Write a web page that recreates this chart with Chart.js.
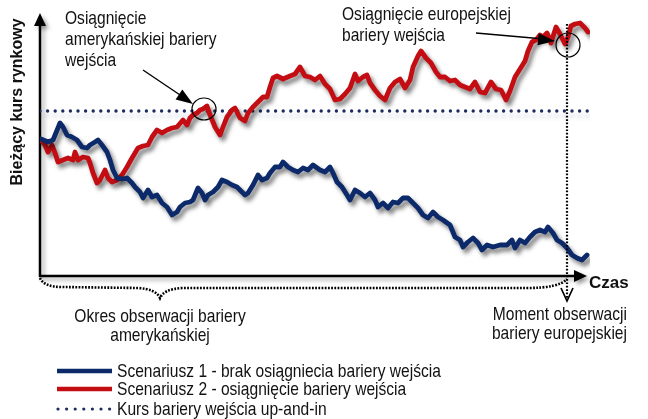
<!DOCTYPE html>
<html>
<head>
<meta charset="utf-8">
<script src="https://cdn.jsdelivr.net/npm/chart.js@4.4.1/dist/chart.umd.min.js"></script>
<style>
  html, body { margin: 0; padding: 0; background: #fff; }
  #wrap { width: 648px; height: 419px; }
</style>
</head>
<body>
<div id="wrap"><canvas id="barrierChart" width="648" height="419"></canvas></div>
<script>
// Bariera up-and-in: dwa scenariusze kursu na tle poziomu bariery
// Czas w krokach (0..550), kurs w jednostkach umownych (0..276)

const blueT = [1, 8, 13, 20, 23, 27, 32, 37, 42, 47, 50, 55, 58, 62, 67, 70, 73, 77, 82, 87, 92, 95, 100, 103, 108, 112, 117, 122, 127, 132, 137, 140, 145, 150, 153, 158, 162, 165, 168, 173, 178, 182, 187, 192, 197, 202, 205, 208, 213, 218, 222, 227, 230, 235, 240, 243, 248, 253, 258, 263, 268, 273, 280, 285, 290, 293, 297, 302, 307, 310, 315, 320, 325, 330, 335, 338, 343, 348, 353, 358, 363, 368, 373, 378, 383, 388, 393, 398, 403, 410, 415, 420, 423, 428, 433, 438, 442, 447, 453, 460, 467, 472, 475, 480, 485, 490, 495, 500, 505, 508, 513, 517, 522, 527, 532, 537, 542, 547];
const blueV = [137, 134, 136, 153, 149, 141, 139, 136, 129, 128, 131, 134, 136, 131, 124, 116, 106, 98, 97, 98, 93, 89, 84, 78, 86, 79, 81, 73, 69, 61, 64, 69, 73, 74, 76, 88, 83, 76, 81, 84, 89, 96, 94, 91, 89, 84, 81, 83, 91, 101, 96, 98, 103, 109, 109, 114, 109, 106, 104, 108, 106, 111, 106, 104, 109, 103, 94, 89, 81, 76, 86, 83, 79, 83, 76, 69, 73, 68, 74, 73, 78, 78, 73, 68, 61, 58, 64, 59, 56, 51, 39, 36, 29, 34, 38, 33, 26, 31, 29, 31, 31, 36, 28, 36, 33, 39, 44, 46, 44, 49, 43, 36, 33, 28, 21, 18, 16, 21];

const redT = [1, 5, 8, 12, 15, 18, 23, 28, 33, 35, 38, 43, 48, 50, 53, 57, 60, 65, 68, 72, 77, 82, 87, 92, 95, 98, 103, 108, 112, 117, 122, 127, 132, 137, 143, 147, 150, 153, 157, 160, 163, 167, 170, 173, 175, 180, 183, 187, 192, 195, 200, 205, 208, 213, 218, 223, 227, 230, 233, 237, 243, 250, 255, 260, 265, 270, 275, 280, 285, 290, 295, 300, 305, 310, 315, 318, 323, 327, 330, 335, 340, 345, 350, 355, 360, 365, 370, 373, 378, 381, 386, 391, 396, 400, 405, 410, 415, 420, 425, 430, 435, 440, 445, 451, 456, 461, 466, 470, 475, 480, 485, 488, 492, 496, 500, 503, 507, 511, 516, 520, 525, 528, 531, 535, 540, 545, 548];
const redV = [136, 131, 124, 131, 123, 114, 116, 118, 116, 124, 116, 119, 118, 113, 103, 93, 96, 106, 98, 94, 96, 101, 109, 118, 123, 128, 130, 131, 139, 146, 143, 146, 148, 149, 156, 151, 158, 161, 163, 166, 167, 170, 161, 154, 149, 141, 149, 159, 166, 168, 158, 155, 163, 169, 174, 179, 179, 189, 198, 200, 197, 200, 202, 209, 200, 199, 196, 200, 192, 187, 176, 177, 182, 188, 202, 195, 199, 201, 193, 186, 180, 176, 188, 194, 197, 188, 196, 209, 220, 225, 218, 213, 204, 199, 199, 195, 196, 191, 189, 187, 194, 184, 183, 194, 187, 186, 176, 185, 199, 207, 215, 225, 234, 236, 241, 239, 243, 233, 249, 242, 232, 239, 250, 252, 253, 248, 244];

const barrierLevel = 165;
const timeEnd = 548;
const americanHit = { t: 164, v: 167 };   // pierwsze przebicie bariery
const europeanT = 527;                    // moment obserwacji europejskiej
const europeanHit = { t: 528, v: 231 };

const seriesLabels = [
  'Scenariusz 1 - brak osiągniecia bariery wejścia',
  'Scenariusz 2 - osiągnięcie bariery wejścia',
  'Kurs bariery wejścia up-and-in'
];
const yTitle = 'Bieżący kurs rynkowy';
const xTitle = 'Czas';
const noteAmerican = ['Osiągnięcie', 'amerykańskiej bariery', 'wejścia'];
const noteEuropean = ['Osiągnięcie europejskiej', 'bariery wejścia'];
const notePeriod = ['Okres obserwacji bariery', 'amerykańskiej'];
const noteMoment = ['Moment obserwacji', 'bariery europejskiej'];

const BLUE = '#0c2a6a';
const RED = '#c40d12';
const DOTS = '#1a2c5e';

// --- fonts -----------------------------------------------------------
function hasFont(name) {
  const c = document.createElement('canvas').getContext('2d');
  const probe = 'abcdefghijklmnopqrstuvwxyz ABCDEFGH';
  c.font = '40px monospace';
  const a = c.measureText(probe).width;
  c.font = '40px "' + name + '", monospace';
  return c.measureText(probe).width !== a;
}
const NARROW = hasFont('Liberation Sans Narrow') ? '"Liberation Sans Narrow"' : null;
const SANS = '"Liberation Sans", Arial, sans-serif';

function narrowText(ctx, text, x, y, size, align) {
  ctx.save();
  ctx.fillStyle = '#111';
  ctx.textBaseline = 'alphabetic';
  ctx.textAlign = align || 'left';
  if (NARROW) {
    ctx.font = size + 'px ' + NARROW;
    ctx.fillText(text, x, y);
  } else {
    ctx.font = size + 'px ' + SANS;
    ctx.translate(x, y);
    ctx.scale(0.82, 1);
    ctx.fillText(text, 0, 0);
  }
  ctx.restore();
}

function arrowHead(ctx, x0, y0, x1, y1, len, half) {
  const a = Math.atan2(y1 - y0, x1 - x0);
  ctx.beginPath();
  ctx.moveTo(x1, y1);
  ctx.lineTo(x1 - len * Math.cos(a) + half * Math.sin(a), y1 - len * Math.sin(a) - half * Math.cos(a));
  ctx.lineTo(x1 - len * Math.cos(a) - half * Math.sin(a), y1 - len * Math.sin(a) + half * Math.cos(a));
  ctx.closePath();
  ctx.fill();
}

function shadowOn(ctx, dx, dy, blur, col) {
  ctx.shadowColor = col || 'rgba(0,0,0,0.35)';
  ctx.shadowOffsetX = dx;
  ctx.shadowOffsetY = dy;
  ctx.shadowBlur = blur;
}

// --- plugins ---------------------------------------------------------
const lineShadow = {
  id: 'lineShadow',
  beforeDatasetDraw(chart, args) {
    const ctx = chart.ctx;
    ctx.save();
    if (args.index === 2) shadowOn(ctx, 0, 5, 4, 'rgba(60,70,110,0.30)');
    else shadowOn(ctx, 3, 4, 4, 'rgba(0,0,0,0.5)');
  },
  afterDatasetDraw(chart) {
    chart.ctx.restore();
  }
};

const axesArrows = {
  id: 'axesArrows',
  beforeDatasetsDraw(chart) {
    const { ctx, chartArea: ca } = chart;
    const x0 = ca.left, y0 = ca.bottom;
    const xEnd = chart.scales.x.getPixelForValue(timeEnd) - 1;
    ctx.save();
    shadowOn(ctx, 3, 3, 4, 'rgba(0,0,0,0.35)');
    ctx.strokeStyle = '#000';
    ctx.fillStyle = '#000';
    ctx.lineWidth = 2.5;
    ctx.beginPath();
    ctx.moveTo(x0, y0 + 1);
    ctx.lineTo(x0, 20);
    ctx.moveTo(x0 - 1, y0);
    ctx.lineTo(xEnd - 8, y0);
    ctx.stroke();
    arrowHead(ctx, x0, 40, x0, 13, 13, 6);
    arrowHead(ctx, xEnd - 20, y0, xEnd, y0, 13, 6);
    ctx.restore();

    // y title
    ctx.save();
    ctx.fillStyle = '#111';
    ctx.font = 'bold 16px ' + SANS;
    ctx.textAlign = 'center';
    ctx.textBaseline = 'middle';
    ctx.translate(18, 102);
    ctx.rotate(-Math.PI / 2);
    ctx.fillText(yTitle, 0, 0);
    ctx.restore();

    // x title
    ctx.save();
    ctx.fillStyle = '#111';
    ctx.font = 'bold 17px ' + SANS;
    ctx.textAlign = 'left';
    ctx.textBaseline = 'alphabetic';
    ctx.fillText(xTitle, xEnd + 2, y0 + 12);
    ctx.restore();
  }
};

const notes = {
  id: 'notes',
  afterDatasetsDraw(chart) {
    const { ctx } = chart;
    const xs = chart.scales.x, ys = chart.scales.y;
    const ax = xs.getPixelForValue(americanHit.t), ay = ys.getPixelForValue(americanHit.v);
    const ex = xs.getPixelForValue(europeanHit.t), ey = ys.getPixelForValue(europeanHit.v);
    const eT = xs.getPixelForValue(europeanT);
    const left = chart.chartArea.left, bottom = chart.chartArea.bottom;

    ctx.save();
    ctx.strokeStyle = '#000';
    ctx.fillStyle = '#000';

    // circles
    ctx.lineWidth = 1.2;
    ctx.beginPath();
    ctx.ellipse(ax, ay, 12, 11, 0, 0, Math.PI * 2);
    ctx.stroke();
    ctx.beginPath();
    ctx.ellipse(ex, ey, 12, 12, 0, 0, Math.PI * 2);
    ctx.stroke();

    // pointer arrows
    ctx.lineWidth = 1.4;
    ctx.beginPath();
    ctx.moveTo(143, 70);
    ctx.lineTo(ax - 18, ay - 10);
    ctx.stroke();
    arrowHead(ctx, 143, 70, ax - 11, ay - 5, 17, 6);
    ctx.beginPath();
    ctx.moveTo(476, 33);
    ctx.lineTo(ex - 24, ey - 6);
    ctx.stroke();
    arrowHead(ctx, 476, 33, ex - 13, ey - 4, 17, 6);

    // European observation moment: vertical dotted line with open arrow
    ctx.lineWidth = 2.2;
    ctx.setLineDash([1.7, 1.7]);
    ctx.beginPath();
    ctx.moveTo(eT, 24);
    ctx.lineTo(eT, 300);
    ctx.stroke();
    ctx.setLineDash([]);
    ctx.lineWidth = 1.7;
    ctx.beginPath();
    ctx.moveTo(eT - 6, 288);
    ctx.lineTo(eT, 301);
    ctx.lineTo(eT + 6, 288);
    ctx.stroke();

    // brace under the American observation period
    ctx.lineWidth = 2.6;
    ctx.setLineDash([1.8, 1.4]);
    ctx.beginPath();
    ctx.moveTo(left, bottom + 2);
    ctx.quadraticCurveTo(left + 4, bottom + 11, left + 22, bottom + 11);
    ctx.lineTo(138, bottom + 12);
    ctx.quadraticCurveTo(156, bottom + 13, 160, bottom + 22);
    ctx.quadraticCurveTo(164, bottom + 13, 182, bottom + 12);
    ctx.lineTo(eT - 40, bottom + 12);
    ctx.quadraticCurveTo(eT - 8, bottom + 12, eT, bottom + 3);
    ctx.stroke();
    ctx.setLineDash([]);
    ctx.restore();

    // texts
    noteAmerican.forEach((s, i) => narrowText(ctx, s, 65, 24 + i * 21, 19, 'left'));
    noteEuropean.forEach((s, i) => narrowText(ctx, s, 342, 20 + i * 21, 19, 'left'));
    notePeriod.forEach((s, i) => narrowText(ctx, s, 160, 322 + i * 19, 19, 'center'));
    noteMoment.forEach((s, i) => narrowText(ctx, s, 627, 320 + i * 19, 19, 'right'));
  }
};

const customLegend = {
  id: 'customLegend',
  afterDraw(chart) {
    const ctx = chart.ctx;
    const rows = [371, 389, 409];
    chart.data.datasets.forEach((ds, i) => {
      const y = rows[i];
      ctx.save();
      ctx.strokeStyle = ds.borderColor;
      ctx.lineWidth = i === 2 ? 3.2 : 4.5;
      ctx.lineCap = i === 2 ? 'round' : 'butt';
      ctx.setLineDash(i === 2 ? [0, 8.6] : []);
      ctx.beginPath();
      ctx.moveTo(i === 2 ? 58 : 57, y);
      ctx.lineTo(112, y);
      ctx.stroke();
      ctx.restore();
      narrowText(ctx, ds.label, 117, y + 6, 19, 'left');
    });
  }
};

// --- chart -----------------------------------------------------------
function initBarrierChart() {
  const el = document.getElementById('barrierChart');
  if (!el || typeof Chart === 'undefined') return;
  const toXY = (ts, vs) => ts.map((t, i) => ({ x: t, y: vs[i] }));
  new Chart(el.getContext('2d'), {
    type: 'line',
    data: {
      datasets: [{
        label: seriesLabels[0],
        data: toXY(blueT, blueV),
        borderColor: BLUE,
        borderWidth: 4.8,
        pointRadius: 0,
        tension: 0,
        borderJoinStyle: 'round',
        borderCapStyle: 'round'
      }, {
        label: seriesLabels[1],
        data: toXY(redT, redV),
        borderColor: RED,
        borderWidth: 4.8,
        pointRadius: 0,
        tension: 0,
        borderJoinStyle: 'round',
        borderCapStyle: 'round'
      }, {
        label: seriesLabels[2],
        data: [{ x: 0, y: barrierLevel }, { x: timeEnd, y: barrierLevel }],
        borderColor: DOTS,
        borderWidth: 3.4,
        borderDash: [0, 7.6],
        borderCapStyle: 'round',
        pointRadius: 0
      }]
    },
    options: {
      responsive: false,
      animation: false,
      devicePixelRatio: 1,
      layout: { padding: { left: 40, right: 58, top: 0, bottom: 143 } },
      plugins: { legend: { display: false }, tooltip: { enabled: false } },
      scales: {
        x: { type: 'linear', min: 0, max: 550, display: false },
        y: { type: 'linear', min: 0, max: 276, display: false }
      }
    },
    plugins: [lineShadow, axesArrows, notes, customLegend]
  });
}

document.addEventListener('DOMContentLoaded', initBarrierChart);
</script>
</body>
</html>
